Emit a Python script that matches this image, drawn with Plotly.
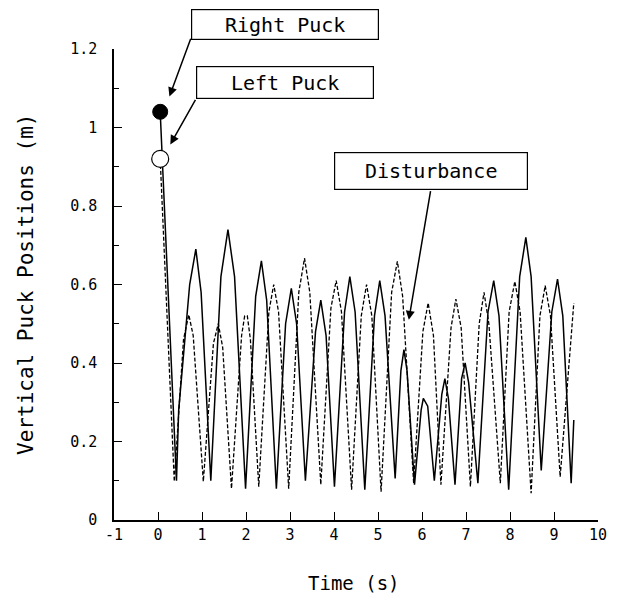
import plotly.graph_objects as go

# ---- data ----
right_t = [0.05, 0.42, 0.47, 0.72, 0.86, 0.98, 1.20, 1.43, 1.59, 1.74, 1.99, 2.22, 2.35, 2.47,
           2.69, 2.90, 3.03, 3.15, 3.35, 3.58, 3.70, 3.82, 4.01, 4.24, 4.36, 4.48, 4.70, 4.92,
           5.04, 5.16, 5.39, 5.52, 5.59, 5.66, 5.83, 5.98, 6.03, 6.13, 6.28, 6.45, 6.52, 6.60,
           6.75, 6.90, 6.98, 7.06, 7.27, 7.50, 7.63, 7.75, 7.97, 8.22, 8.36, 8.48, 8.71, 8.95,
           9.08, 9.20, 9.39, 9.45]
right_y = [1.04, 0.10, 0.28, 0.60, 0.69, 0.58, 0.10, 0.62, 0.74, 0.62, 0.08, 0.57, 0.66, 0.56,
           0.08, 0.50, 0.59, 0.50, 0.10, 0.48, 0.56, 0.47, 0.085, 0.53, 0.62, 0.53, 0.077, 0.52,
           0.61, 0.52, 0.106, 0.38, 0.434, 0.38, 0.09, 0.28, 0.31, 0.29, 0.10, 0.32, 0.36, 0.31,
           0.09, 0.36, 0.40, 0.35, 0.094, 0.53, 0.61, 0.52, 0.077, 0.62, 0.72, 0.62, 0.126, 0.53,
           0.614, 0.52, 0.094, 0.255]

left_t = [0.05, 0.37, 0.58, 0.70, 0.80, 1.03, 1.26, 1.37, 1.47, 1.67, 1.90, 1.97, 2.03, 2.10,
          2.29, 2.52, 2.63, 2.74, 2.97, 3.20, 3.33, 3.45, 3.70, 3.93, 4.05, 4.17, 4.40, 4.62,
          4.74, 4.86, 5.07, 5.31, 5.44, 5.56, 5.81, 6.02, 6.14, 6.26, 6.43, 6.66, 6.77, 6.89,
          7.10, 7.30, 7.41, 7.52, 7.78, 7.98, 8.11, 8.23, 8.48, 8.68, 8.80, 8.92, 9.14, 9.45]
left_y = [0.92, 0.098, 0.46, 0.523, 0.47, 0.098, 0.45, 0.50, 0.44, 0.08, 0.47, 0.52, 0.52, 0.46,
          0.085, 0.53, 0.60, 0.53, 0.08, 0.58, 0.667, 0.58, 0.09, 0.54, 0.61, 0.53, 0.077, 0.52,
          0.60, 0.52, 0.072, 0.58, 0.659, 0.57, 0.094, 0.48, 0.553, 0.47, 0.09, 0.49, 0.563, 0.49,
          0.085, 0.50, 0.58, 0.50, 0.094, 0.53, 0.608, 0.53, 0.068, 0.52, 0.597, 0.52, 0.11, 0.553]

x_ticks = [-1, 0, 1, 2, 3, 4, 5, 6, 7, 8, 9, 10]
x_tick_labels = ["-1", "0", "1", "2", "3", "4", "5", "6", "7", "8", "9", "10"]
y_ticks = [0, 0.2, 0.4, 0.6, 0.8, 1.0, 1.2]
y_tick_labels = ["0", "0.2", "0.4", "0.6", "0.8", "1", "1.2"]

FONT = "DejaVu Sans Mono"

fig = go.Figure()
fig.add_trace(go.Scatter(x=left_t, y=left_y, mode="lines",
                         line=dict(color="black", width=1.3, dash="4px,2px"),
                         showlegend=False, hoverinfo="skip"))
fig.add_trace(go.Scatter(x=right_t, y=right_y, mode="lines",
                         line=dict(color="black", width=1.5),
                         showlegend=False, hoverinfo="skip"))
fig.add_trace(go.Scatter(x=right_t[:1], y=right_y[:1], mode="markers",
                         marker=dict(size=15, color="black", line=dict(color="black", width=1)),
                         showlegend=False, cliponaxis=False))
fig.add_trace(go.Scatter(x=left_t[:1], y=left_y[:1], mode="markers",
                         marker=dict(size=17, color="white", line=dict(color="black", width=1.2)),
                         showlegend=False, cliponaxis=False))

ann = []
box = dict(xref="paper", yref="paper", xanchor="center", yanchor="middle", showarrow=False,
           bgcolor="white", bordercolor="black", borderwidth=1.2, borderpad=0,
           font=dict(family=FONT, size=20, color="black"))
ann.append(dict(box, x=0.354, y=1.053, text="Right Puck", width=186, height=29))
ann.append(dict(box, x=0.354, y=0.928, text="Left Puck", width=176, height=31))
ann.append(dict(box, x=0.654, y=0.741, text="Disturbance", width=192, height=36))

arrow = dict(xref="x", yref="y", axref="x", ayref="y", text="", showarrow=True,
             arrowhead=2, arrowsize=1.2, arrowwidth=1.5, arrowcolor="black", standoff=0)
ann.append(dict(arrow, x=0.26, y=1.079, ax=0.756, ay=1.23))
ann.append(dict(arrow, x=0.28, y=0.957, ax=0.87, ay=1.074))
ann.append(dict(arrow, x=5.70, y=0.51, ax=6.20, ay=0.842))

ann.append(dict(xref="paper", yref="paper", x=-0.183, y=0.5, xanchor="center", yanchor="middle",
                text="Vertical Puck Positions (m)", textangle=-90, showarrow=False,
                font=dict(family=FONT, size=21, color="black")))
ann.append(dict(xref="paper", yref="paper", x=0.496, y=-0.134, xanchor="center", yanchor="middle",
                text="Time (s)", showarrow=False, font=dict(family=FONT, size=19, color="black")))

fig.update_layout(
    width=630, height=602,
    margin=dict(l=106, r=40, t=41, b=90),
    paper_bgcolor="white", plot_bgcolor="white",
    annotations=ann,
    xaxis=dict(range=[-1, 10], tickvals=x_ticks, ticktext=x_tick_labels,
               showgrid=False, zeroline=False, showline=True, linecolor="black", linewidth=1.5,
               ticks="inside", ticklen=8, tickwidth=1.2, tickcolor="black",
               tickfont=dict(family=FONT, size=15, color="black")),
    yaxis=dict(range=[0, 1.2], tickvals=y_ticks, ticktext=y_tick_labels,
               showgrid=False, zeroline=False, showline=True, linecolor="black", linewidth=1.5,
               ticks="inside", ticklen=8, tickwidth=1.2, tickcolor="black",
               minor=dict(dtick=0.1, ticks="inside", ticklen=5, tickwidth=1, tickcolor="black"),
               ticklabelstandoff=12,
               tickfont=dict(family=FONT, size=15, color="black")),
)

fig.write_html("out.html")
